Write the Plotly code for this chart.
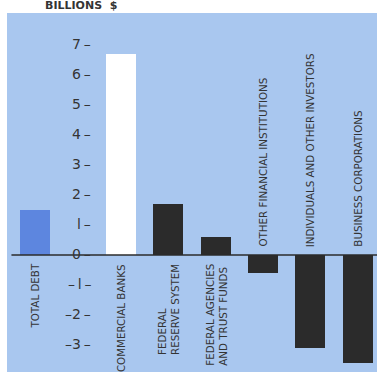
import plotly.graph_objects as go

# Net change in holdings of debt, billions of dollars
categories = [
    "TOTAL DEBT",
    "COMMERCIAL BANKS",
    "FEDERAL<br>RESERVE SYSTEM",
    "FEDERAL AGENCIES<br>AND TRUST FUNDS",
    "OTHER FINANCIAL INSTITUTIONS",
    "INDIVIDUALS AND OTHER INVESTORS",
    "BUSINESS CORPORATIONS",
]
values = [1.5, 6.7, 1.7, 0.6, -0.6, -3.1, -3.6]

tick_values = [7, 6, 5, 4, 3, 2, 1, 0, -1, -2, -3]
tick_labels = ["7\u2009–", "6\u2009–", "5\u2009–", "4\u2009–", "3\u2009–", "2\u2009–",
               "l\u2009–", "0\u2009–", "–\u2009l\u2009–", "–2\u2009–", "–3\u2009–"]

BG = "#a9c7ef"
DARK = "#2b2b2b"
TEXT = "#343434"
FONT = "'DejaVu Sans', sans-serif"

bar_colors = ["#5d86df", "#ffffff"] + [DARK] * (len(categories) - 2)

# the first bar is set apart from the rest to leave room for the scale
GAP = 0.82
positions = [0.0] + [i + GAP for i in range(1, len(categories))]

fig = go.Figure()
fig.add_trace(go.Bar(
    x=positions,
    y=values,
    width=0.635,
    marker=dict(color=bar_colors, line=dict(width=0)),
    hoverinfo="skip",
))

annotations = []

# category labels, rotated, on the opposite side of the zero line from the bar
for pos, name, val in zip(positions, categories, values):
    above = val < 0
    annotations.append(dict(
        x=pos, y=0, xref="x", yref="y",
        text=name, textangle=-90, showarrow=False,
        xanchor="center", yanchor="bottom" if above else "top",
        yshift=6 if above else -7,
        align="left",
        font=dict(family=FONT, size=10.3, color=TEXT),
    ))

# value scale sitting between the first two bars
for v, t in zip(tick_values, tick_labels):
    annotations.append(dict(
        x=1.22, y=v, xref="x", yref="y",
        text=t, showarrow=False,
        xanchor="right", yanchor="middle", yshift=1,
        font=dict(family=FONT, size=14, color=TEXT),
    ))

annotations.append(dict(
    x=0.097, y=1, xref="paper", yref="paper",
    text="<b>BILLIONS  $</b>", showarrow=False,
    xanchor="left", yanchor="bottom", yshift=-1,
    font=dict(family=FONT, size=11, color=TEXT),
))

fig.update_layout(
    width=377, height=374,
    margin=dict(l=7, r=0, t=13, b=2),
    paper_bgcolor="white",
    plot_bgcolor=BG,
    showlegend=False,
    bargap=0,
    annotations=annotations,
    shapes=[dict(
        type="line", xref="paper", yref="y",
        x0=0.012, x1=1, y0=0, y1=0,
        line=dict(color=DARK, width=1.6),
        layer="above",
    )],
    xaxis=dict(range=[-0.592, 7.23], visible=False, fixedrange=True),
    yaxis=dict(range=[-3.9, 8.07], visible=False, fixedrange=True),
)

fig.write_html("out.html")
